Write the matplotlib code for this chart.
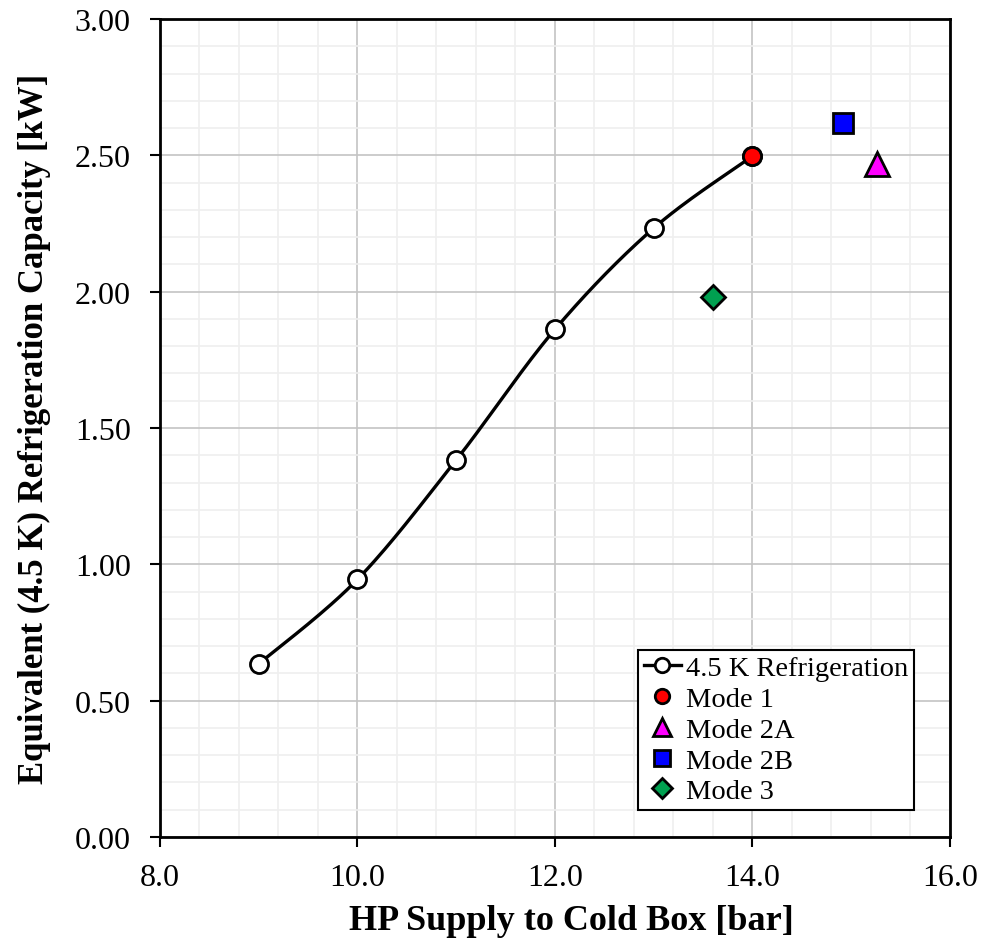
import numpy as np
import matplotlib
matplotlib.use("Agg")
import matplotlib.pyplot as plt
from matplotlib.ticker import MultipleLocator, FormatStrFormatter

plt.rcParams['font.family'] = ['Liberation Serif', 'DejaVu Serif']

# Data
hp_supply = [9.0, 10.0, 11.0, 12.0, 13.0, 14.0]
capacity = [0.635, 0.945, 1.383, 1.862, 2.233, 2.497]
mode1 = (14.0, 2.497)
mode2a = (15.26, 2.47)
mode2b = (14.92, 2.62)
mode3 = (13.6, 1.98)


def smooth(xs, ys, n=30):
    # Excel-like smoothed line (Catmull-Rom / Bezier) through the data points
    p = np.column_stack([xs, ys]).astype(float)
    p = np.vstack([p[0], p, p[-1]])
    out = []
    for i in range(1, len(p) - 2):
        p0, p1, p2, p3 = p[i - 1], p[i], p[i + 1], p[i + 2]
        c1 = p1 + (p2 - p0) / 6.0
        c2 = p2 - (p3 - p1) / 6.0
        t = np.linspace(0, 1, n)[:, None]
        seg = ((1 - t) ** 3) * p1 + 3 * ((1 - t) ** 2) * t * c1 + 3 * (1 - t) * t ** 2 * c2 + t ** 3 * p2
        out.append(seg if i == 1 else seg[1:])
    out = np.vstack(out)
    return out[:, 0], out[:, 1]


fig = plt.figure(figsize=(9.84, 9.45), dpi=100)
ax = fig.add_axes([0.1626, 0.1132, 0.8028, 0.8656])

sx, sy = smooth(hp_supply, capacity)
ax.plot(sx, sy, color='black', lw=2.4, zorder=3)
ax.plot(hp_supply, capacity, linestyle='none', marker='o', ms=13, mfc='white',
        mec='black', mew=2, zorder=4)
# legend proxy
ax.plot([], [], color='black', lw=2.4, marker='o', ms=13, mfc='white', mec='black',
        mew=2, label='4.5 K Refrigeration')

ax.plot(*mode1, linestyle='none', marker='o', ms=13, mfc='red', mec='black', mew=2,
        zorder=5, label='Mode 1')
ax.plot(*mode2a, linestyle='none', marker='^', ms=17, mfc='#ff00ff', mec='black', mew=2,
        zorder=5, label='Mode 2A')
ax.plot(*mode2b, linestyle='none', marker='s', ms=14, mfc='#0000ff', mec='black', mew=2,
        zorder=5, label='Mode 2B')
ax.plot(*mode3, linestyle='none', marker='D', ms=12.5, mfc='#00a050', mec='black', mew=2,
        zorder=5, label='Mode 3')

ax.set_xlim(8, 16)
ax.set_ylim(0, 3)
ax.xaxis.set_major_locator(MultipleLocator(2))
ax.xaxis.set_minor_locator(MultipleLocator(0.4))
ax.yaxis.set_major_locator(MultipleLocator(0.5))
ax.yaxis.set_minor_locator(MultipleLocator(0.1))
ax.xaxis.set_major_formatter(FormatStrFormatter('%.1f'))
ax.yaxis.set_major_formatter(FormatStrFormatter('%.2f'))

ax.grid(which='major', color='#c4c4c4', lw=1.2, zorder=0)
ax.grid(which='minor', color='#efefef', lw=1.2, zorder=0)
ax.set_axisbelow(True)

for s in ax.spines.values():
    s.set_linewidth(2.0)
    s.set_color('black')

ax.tick_params(which='major', direction='out', length=7, width=1.5, labelsize=23)
ax.tick_params(which='minor', length=0)
ax.tick_params(axis='y', pad=14)
ax.tick_params(axis='x', pad=12)

ax.set_xlabel('HP Supply to Cold Box [bar]', fontsize=26, fontweight='bold', labelpad=8)
ax.set_ylabel('Equivalent (4.5 K) Refrigeration Capacity [kW]', fontsize=25,
              fontweight='bold', labelpad=17)
ax.xaxis.label.set_x(0.521)

leg = ax.legend(loc='lower right', bbox_to_anchor=(0.955, 0.033), fontsize=20.5,
                frameon=True, fancybox=False, edgecolor='black', framealpha=1,
                handlelength=1.3, handletextpad=0.2, labelspacing=0.17,
                borderpad=0.2, borderaxespad=0, numpoints=1, markerscale=0.8)
leg.get_frame().set_linewidth(1.5)

fig.savefig('out.png', dpi=100)
